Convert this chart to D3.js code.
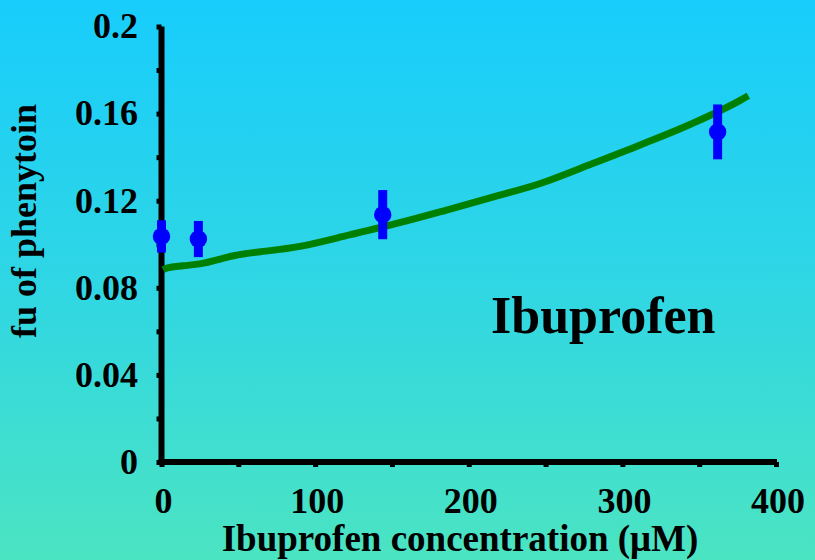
<!DOCTYPE html>
<html>
<head>
<meta charset="utf-8">
<script src="https://cdn.jsdelivr.net/npm/d3@7/dist/d3.min.js"></script>
<style>
  html, body { margin: 0; padding: 0; background: #fff; }
  svg { display: block; }
  text { font-family: "Liberation Serif", "Times New Roman", "DejaVu Serif", serif; font-weight: bold; fill: #000; }
</style>
</head>
<body>
<svg id="chart" width="815" height="560"></svg>
<script>
// ---- data ----
const xTickLabels = [0, 100, 200, 300, 400];
const xMinorTicks = [0, 50, 100, 150, 200, 250, 300, 350, 400];
const yTickLabels = [0, 0.04, 0.08, 0.12, 0.16, 0.2];
const yMinorTicks = [0, 0.02, 0.04, 0.06, 0.08, 0.1, 0.12, 0.14, 0.16, 0.18, 0.2];

const pointX = [0, 24, 144, 362];
const pointY = [0.1036, 0.1024, 0.1136, 0.1516];
const pointErr = [0.0074, 0.0083, 0.0113, 0.0126];

const curveX = [1, 4, 14, 25, 47, 90, 123, 155, 185, 215, 247, 279, 312, 344, 377, 382];
const curveY = [0.0883, 0.0892, 0.0901, 0.091, 0.0947, 0.099, 0.1044, 0.1099, 0.1156, 0.1215, 0.128, 0.1366, 0.1457, 0.155, 0.1662, 0.1682];

const xTitle = "Ibuprofen concentration (\u03BCM)";
const yTitle = "fu of phenytoin";
const seriesLabel = "Ibuprofen";

// ---- layout ----
const W = 815, H = 560;
const svg = d3.select("#chart");

const defs = svg.append("defs");
const grad = defs.append("linearGradient").attr("id", "bg").attr("x1", 0).attr("y1", 0).attr("x2", 0).attr("y2", 1);
grad.append("stop").attr("offset", "0%").attr("stop-color", "#18cdfc");
grad.append("stop").attr("offset", "50%").attr("stop-color", "#2fd6e4");
grad.append("stop").attr("offset", "100%").attr("stop-color", "#4be4c2");
svg.append("rect").attr("width", W).attr("height", H).attr("fill", "url(#bg)");

const x = d3.scaleLinear().domain([0, 400]).range([161.5, 776]);
const y = d3.scaleLinear().domain([0, 0.2]).range([462, 26.5]);

// axes lines
const axisG = svg.append("g");
axisG.append("line")
  .attr("x1", x(0)).attr("x2", x(0))
  .attr("y1", y(0.2)).attr("y2", y(0) + 3)
  .attr("stroke", "#000").attr("stroke-width", 6);
axisG.append("line")
  .attr("x1", x(0) - 3).attr("x2", x(400) + 1)
  .attr("y1", y(0)).attr("y2", y(0))
  .attr("stroke", "#000").attr("stroke-width", 6);

// minor ticks using d3 axes
const yAxis = d3.axisLeft(y).tickValues(yMinorTicks).tickSize(5).tickSizeOuter(0).tickFormat("");
const gy = svg.append("g").attr("transform", `translate(${x(0)},0)`).call(yAxis);
gy.select(".domain").remove();
gy.selectAll(".tick line").attr("stroke", "#000").attr("stroke-width", 5);

const xAxis = d3.axisBottom(x).tickValues(xMinorTicks).tickSize(5).tickSizeOuter(0).tickFormat("");
const gx = svg.append("g").attr("transform", `translate(0,${y(0)})`).call(xAxis);
gx.select(".domain").remove();
gx.selectAll(".tick line").attr("stroke", "#000").attr("stroke-width", 5);

// tick labels
svg.append("g").selectAll("text").data(yTickLabels).join("text")
  .attr("x", 138).attr("y", d => y(d)).attr("dy", "0.33em")
  .attr("text-anchor", "end").attr("font-size", 36)
  .text(d => d === 0 ? "0" : String(d));

svg.append("g").selectAll("text").data(xTickLabels).join("text")
  .attr("x", d => x(d) + 2).attr("y", 513)
  .attr("text-anchor", "middle").attr("font-size", 36)
  .text(d => String(d));

// axis titles
svg.append("text")
  .attr("transform", "translate(36,221) rotate(-90)")
  .attr("text-anchor", "middle").attr("font-size", 36)
  .text(yTitle);
svg.append("text")
  .attr("x", 460).attr("y", 551)
  .attr("text-anchor", "middle").attr("font-size", 37)
  .text(xTitle);

// curve
const curveData = curveX.map((v, i) => [v, curveY[i]]);
const line = d3.line().x(d => x(d[0])).y(d => y(d[1])).curve(d3.curveMonotoneX);
svg.append("path").datum(curveData)
  .attr("d", line)
  .attr("fill", "none").attr("stroke", "#008000").attr("stroke-width", 7)
  .attr("stroke-linecap", "butt");

// error bars and points
const pts = pointX.map((v, i) => ({ x: v, y: pointY[i], e: pointErr[i] }));
svg.append("g").selectAll("line").data(pts).join("line")
  .attr("x1", d => x(d.x)).attr("x2", d => x(d.x))
  .attr("y1", d => y(d.y - d.e)).attr("y2", d => y(d.y + d.e))
  .attr("stroke", "#0000ff").attr("stroke-width", 9);
svg.append("g").selectAll("circle").data(pts).join("circle")
  .attr("cx", d => x(d.x)).attr("cy", d => y(d.y)).attr("r", 8.7)
  .attr("fill", "#0000ff");

// series label
svg.append("text")
  .attr("x", 491).attr("y", 333)
  .attr("font-size", 52)
  .text(seriesLabel);
</script>
</body>
</html>
